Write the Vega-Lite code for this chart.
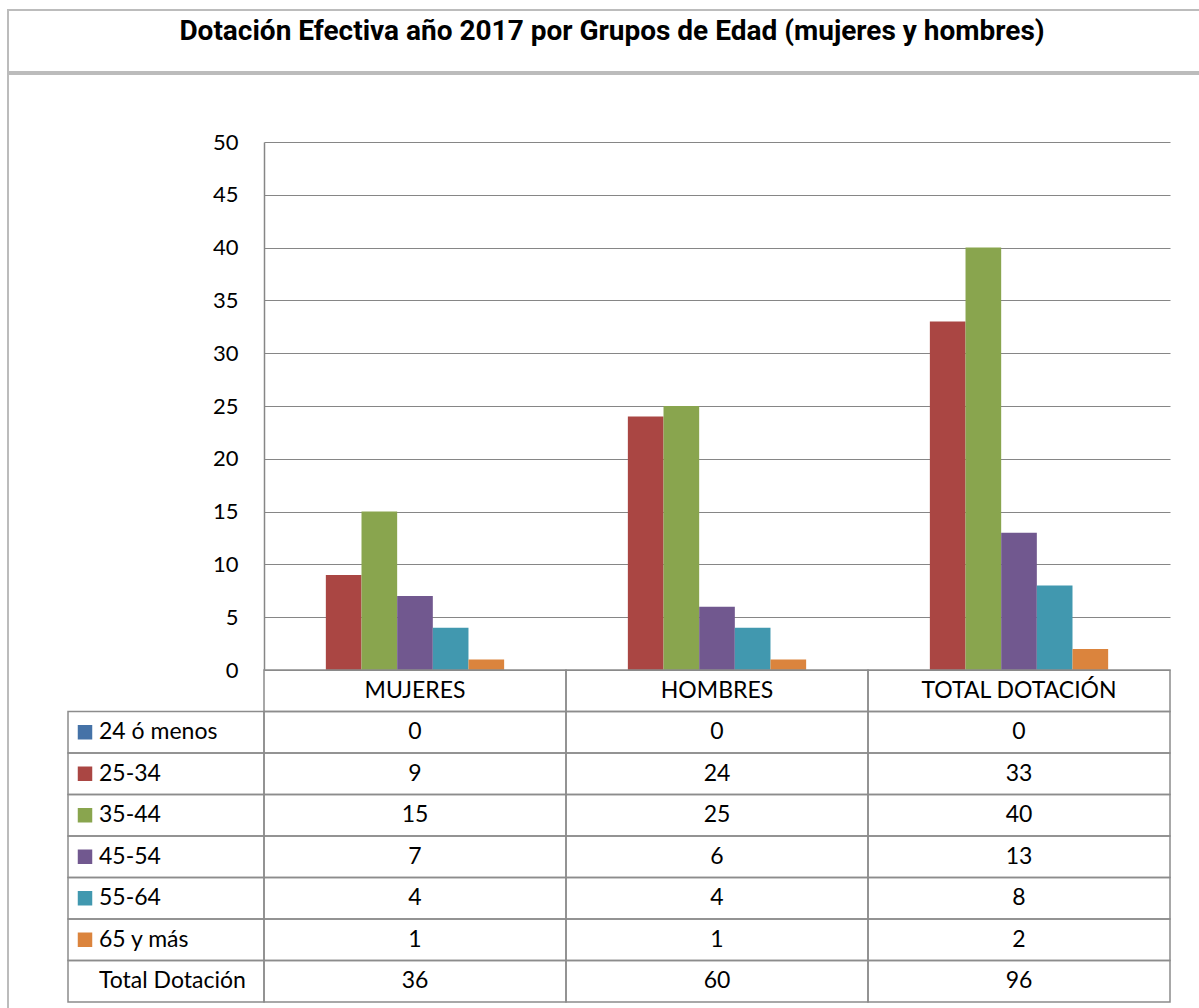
{
  "$schema": "https://vega.github.io/schema/vega-lite/v6.json",
  "padding": {"left": 7, "top": 9, "right": 0, "bottom": 0},
  "background": "white",
  "spacing": 0,
  "datasets": {
    "cells": [
      {"cat": "MUJERES", "group": "24 ó menos", "value": 0},
      {"cat": "MUJERES", "group": "25-34", "value": 9},
      {"cat": "MUJERES", "group": "35-44", "value": 15},
      {"cat": "MUJERES", "group": "45-54", "value": 7},
      {"cat": "MUJERES", "group": "55-64", "value": 4},
      {"cat": "MUJERES", "group": "65 y más", "value": 1},
      {"cat": "MUJERES", "group": "Total Dotación", "value": 36},
      {"cat": "HOMBRES", "group": "24 ó menos", "value": 0},
      {"cat": "HOMBRES", "group": "25-34", "value": 24},
      {"cat": "HOMBRES", "group": "35-44", "value": 25},
      {"cat": "HOMBRES", "group": "45-54", "value": 6},
      {"cat": "HOMBRES", "group": "55-64", "value": 4},
      {"cat": "HOMBRES", "group": "65 y más", "value": 1},
      {"cat": "HOMBRES", "group": "Total Dotación", "value": 60},
      {"cat": "TOTAL DOTACIÓN", "group": "24 ó menos", "value": 0},
      {"cat": "TOTAL DOTACIÓN", "group": "25-34", "value": 33},
      {"cat": "TOTAL DOTACIÓN", "group": "35-44", "value": 40},
      {"cat": "TOTAL DOTACIÓN", "group": "45-54", "value": 13},
      {"cat": "TOTAL DOTACIÓN", "group": "55-64", "value": 8},
      {"cat": "TOTAL DOTACIÓN", "group": "65 y más", "value": 2},
      {"cat": "TOTAL DOTACIÓN", "group": "Total Dotación", "value": 96}
    ],
    "cats": [{"cat": "MUJERES"}, {"cat": "HOMBRES"}, {"cat": "TOTAL DOTACIÓN"}],
    "groups": [
      {"group": "24 ó menos"}, {"group": "25-34"}, {"group": "35-44"}, {"group": "45-54"},
      {"group": "55-64"}, {"group": "65 y más"}, {"group": "Total Dotación"}
    ]
  },
  "vconcat": [
    {
      "width": 1208,
      "height": 62,
      "view": {"stroke": "#bcbcbc", "strokeWidth": 2},
      "data": {"values": [{"t": "Dotación Efectiva año 2017 por Grupos de Edad (mujeres y hombres)"}]},
      "mark": {"type": "text", "font": "Roboto", "fontWeight": "bold", "fontSize": 28, "baseline": "alphabetic", "dy": -1, "color": "black"},
      "encoding": {"text": {"field": "t"}}
    },
    {
      "width": 1208,
      "height": 940,
      "layer": [
        {
          "data": {"name": "cells"},
          "transform": [{"filter": "datum.group !== 'Total Dotación'"}],
          "mark": {"type": "bar"},
          "encoding": {
            "x": {"field": "cat", "type": "nominal", "axis": null,
              "scale": {"type": "band", "domain": ["MUJERES", "HOMBRES", "TOTAL DOTACIÓN"], "range": [256, 1162], "paddingInner": 0.1735, "paddingOuter": 0.0867}},
            "xOffset": {"field": "group", "type": "nominal",
              "scale": {"domain": ["24 ó menos", "25-34", "35-44", "45-54", "55-64", "65 y más", "Total Dotación"], "paddingInner": 0, "paddingOuter": 0}},
            "y": {"field": "value", "type": "quantitative",
              "scale": {"domain": [0, 50], "range": [596, 68], "nice": false, "zero": true},
              "axis": {"title": null, "tickCount": 10, "offset": -256, "grid": true, "gridColor": "#868686", "gridWidth": 1.2,
                "domain": true, "domainColor": "#868686", "domainWidth": 1.5, "ticks": false, "tickSize": 0,
                "labelPadding": 26, "labelFont": "Lato", "labelFontSize": 22, "labelColor": "black"}},
            "color": {"field": "group", "type": "nominal", "legend": null,
              "scale": {"domain": ["24 ó menos", "25-34", "35-44", "45-54", "55-64", "65 y más"],
                "range": ["#4572A7", "#AA4643", "#89A54E", "#71588F", "#4198AF", "#DB843D"]}}
          }
        },
        {
          "layer": [
            {
              "data": {"name": "cells"},
              "mark": {"type": "rect", "filled": false, "color": "#8c8c8c", "strokeWidth": 1.5},
              "encoding": {
                "x": {"field": "cat", "type": "nominal", "axis": null,
                  "scale": {"type": "band", "domain": ["MUJERES", "HOMBRES", "TOTAL DOTACIÓN"], "range": [256, 1162], "paddingInner": 0, "paddingOuter": 0}},
                "y": {"field": "group", "type": "nominal", "axis": null,
                  "scale": {"type": "band", "domain": ["header", "24 ó menos", "25-34", "35-44", "45-54", "55-64", "65 y más", "Total Dotación"], "range": [596, 928], "paddingInner": 0, "paddingOuter": 0}}
              }
            },
            {
              "data": {"name": "cats"},
              "mark": {"type": "rect", "filled": false, "color": "#8c8c8c", "strokeWidth": 1.5},
              "encoding": {
                "x": {"field": "cat", "type": "nominal", "axis": null,
                  "scale": {"type": "band", "domain": ["MUJERES", "HOMBRES", "TOTAL DOTACIÓN"], "range": [256, 1162], "paddingInner": 0, "paddingOuter": 0}},
                "y": {"datum": "header", "type": "nominal", "axis": null,
                  "scale": {"type": "band", "domain": ["header", "24 ó menos", "25-34", "35-44", "45-54", "55-64", "65 y más", "Total Dotación"], "range": [596, 928], "paddingInner": 0, "paddingOuter": 0}}
              }
            },
            {
              "data": {"name": "cells"},
              "mark": {"type": "text", "font": "Lato", "fontSize": 23, "color": "black", "baseline": "middle"},
              "encoding": {
                "x": {"field": "cat", "type": "nominal", "axis": null,
                  "scale": {"type": "band", "domain": ["MUJERES", "HOMBRES", "TOTAL DOTACIÓN"], "range": [256, 1162], "paddingInner": 0, "paddingOuter": 0}},
                "y": {"field": "group", "type": "nominal", "axis": null,
                  "scale": {"type": "band", "domain": ["header", "24 ó menos", "25-34", "35-44", "45-54", "55-64", "65 y más", "Total Dotación"], "range": [596, 928], "paddingInner": 0, "paddingOuter": 0}},
                "text": {"field": "value", "type": "quantitative"}
              }
            },
            {
              "data": {"name": "cats"},
              "mark": {"type": "text", "font": "Lato", "fontSize": 23, "color": "black", "baseline": "middle"},
              "encoding": {
                "x": {"field": "cat", "type": "nominal", "axis": null,
                  "scale": {"type": "band", "domain": ["MUJERES", "HOMBRES", "TOTAL DOTACIÓN"], "range": [256, 1162], "paddingInner": 0, "paddingOuter": 0}},
                "y": {"datum": "header", "type": "nominal", "axis": null,
                  "scale": {"type": "band", "domain": ["header", "24 ó menos", "25-34", "35-44", "45-54", "55-64", "65 y más", "Total Dotación"], "range": [596, 928], "paddingInner": 0, "paddingOuter": 0}},
                "text": {"field": "cat", "type": "nominal"}
              }
            }
          ]
        },
        {
          "layer": [
            {
              "data": {"name": "groups"},
              "mark": {"type": "rect", "filled": false, "color": "#8c8c8c", "strokeWidth": 1.5},
              "encoding": {
                "x": {"datum": "lab", "type": "nominal", "axis": null,
                  "scale": {"type": "band", "domain": ["lab"], "range": [60, 256], "paddingInner": 0, "paddingOuter": 0}},
                "y": {"field": "group", "type": "nominal", "axis": null,
                  "scale": {"type": "band", "domain": ["header", "24 ó menos", "25-34", "35-44", "45-54", "55-64", "65 y más", "Total Dotación"], "range": [596, 928], "paddingInner": 0, "paddingOuter": 0}}
              }
            },
            {
              "data": {"name": "groups"},
              "transform": [{"filter": "datum.group !== 'Total Dotación'"}],
              "mark": {"type": "point", "shape": "square", "filled": true, "opacity": 1, "size": 210, "xOffset": 17},
              "encoding": {
                "x": {"datum": "lab", "type": "nominal", "axis": null, "bandPosition": 0,
                  "scale": {"type": "band", "domain": ["lab"], "range": [60, 256], "paddingInner": 0, "paddingOuter": 0}},
                "y": {"field": "group", "type": "nominal", "axis": null,
                  "scale": {"type": "band", "domain": ["header", "24 ó menos", "25-34", "35-44", "45-54", "55-64", "65 y más", "Total Dotación"], "range": [596, 928], "paddingInner": 0, "paddingOuter": 0}},
                "color": {"field": "group", "type": "nominal", "legend": null,
                  "scale": {"domain": ["24 ó menos", "25-34", "35-44", "45-54", "55-64", "65 y más"],
                    "range": ["#4572A7", "#AA4643", "#89A54E", "#71588F", "#4198AF", "#DB843D"]}}
              }
            },
            {
              "data": {"name": "groups"},
              "mark": {"type": "text", "font": "Lato", "fontSize": 23, "color": "black", "baseline": "middle", "align": "left", "dx": 31},
              "encoding": {
                "x": {"datum": "lab", "type": "nominal", "axis": null, "bandPosition": 0,
                  "scale": {"type": "band", "domain": ["lab"], "range": [60, 256], "paddingInner": 0, "paddingOuter": 0}},
                "y": {"field": "group", "type": "nominal", "axis": null,
                  "scale": {"type": "band", "domain": ["header", "24 ó menos", "25-34", "35-44", "45-54", "55-64", "65 y más", "Total Dotación"], "range": [596, 928], "paddingInner": 0, "paddingOuter": 0}},
                "text": {"field": "group", "type": "nominal"}
              }
            }
          ]
        }
      ],
      "resolve": {
        "scale": {"x": "independent", "y": "independent", "color": "independent"},
        "axis": {"x": "independent", "y": "independent"}
      }
    }
  ],
  "config": {
    "view": {"stroke": "#bcbcbc", "strokeWidth": 2},
    "font": "Lato"
  }
}
